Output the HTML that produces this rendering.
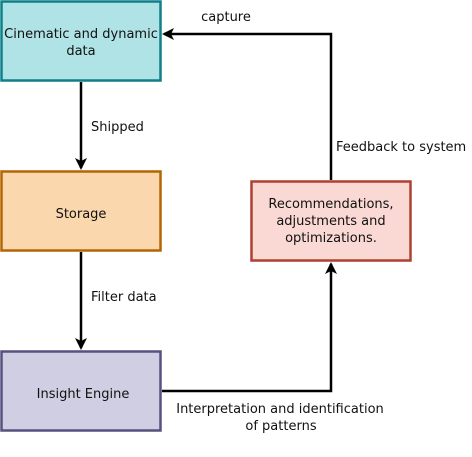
<!DOCTYPE html>
<html><head><style>
body{margin:0;background:#fff;width:472px;height:452px;overflow:hidden}
svg text{font-family:"DejaVu Sans",sans-serif;font-size:13px;fill:#111}
</style></head><body>
<svg width="472" height="452" viewBox="0 0 472 452" xmlns="http://www.w3.org/2000/svg">
<defs><marker id="a" markerWidth="12" markerHeight="12" refX="10" refY="6" orient="auto" markerUnits="userSpaceOnUse">
<path d="M0,0 L12,6 L0,12 L3,6 Z" fill="#000"/></marker></defs>
<rect x="1.5" y="1.5" width="159" height="79" fill="#b0e3e6" stroke="#0e8088" stroke-width="2.5"/>
<rect x="1.5" y="171.5" width="159" height="79" fill="#fad7ac" stroke="#b46504" stroke-width="2.5"/>
<rect x="1.5" y="351.5" width="159" height="79" fill="#d0cee2" stroke="#56517e" stroke-width="2.5"/>
<rect x="251.5" y="181.5" width="159" height="79" fill="#fad9d5" stroke="#ae4132" stroke-width="2.5"/>
<g stroke="#000" stroke-width="2.5" fill="none">
<path d="M81,82 V168" marker-end="url(#a)"/>
<path d="M81,252 V348" marker-end="url(#a)"/>
<path d="M162,391 H331 V264" marker-end="url(#a)"/>
<path d="M331,180 V34 H164" marker-end="url(#a)"/>
</g>
<text x="81" y="38" text-anchor="middle">Cinematic and dynamic</text>
<text x="81" y="55" text-anchor="middle">data</text>
<text x="81" y="218" text-anchor="middle" font-size="16.5">Storage</text>
<text x="83" y="398" text-anchor="middle" font-size="16.5">Insight Engine</text>
<text x="331" y="208" text-anchor="middle">Recommendations,</text>
<text x="331" y="225" text-anchor="middle">adjustments and</text>
<text x="331" y="242" text-anchor="middle">optimizations.</text>
<text x="226" y="21" text-anchor="middle">capture</text>
<text x="91" y="131">Shipped</text>
<text x="336" y="151">Feedback to system</text>
<text x="91" y="301">Filter data</text>
<text x="280" y="413" text-anchor="middle">Interpretation and identification</text>
<text x="281" y="430" text-anchor="middle">of patterns</text>
</svg>
</body></html>
